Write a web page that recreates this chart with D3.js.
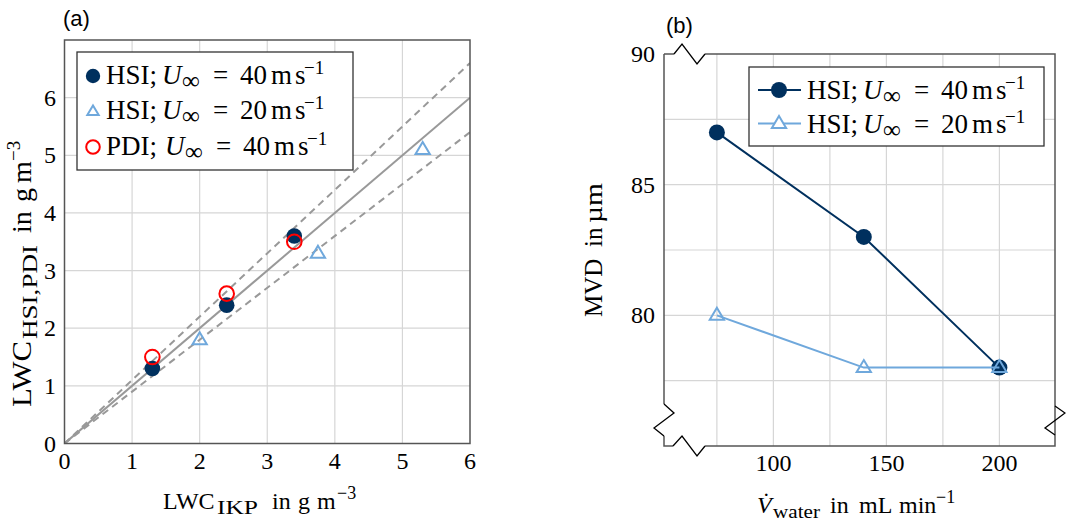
<!DOCTYPE html>
<html><head><meta charset="utf-8">
<script src="https://cdn.jsdelivr.net/npm/d3@7"></script>
<style>body{margin:0;background:#fff} text{fill:#000}</style>
</head><body><svg id="c" width="1066" height="524"></svg>
<script>
// ---- data, panel (a)
const ikp40A = [1.3, 2.4, 3.4];
const hsi40A = [1.3, 2.4, 3.6];
const ikp20A = [2.0, 3.75, 5.3];
const hsi20A = [1.8, 3.3, 5.1];
const pdi40A = [1.5, 2.6, 3.5];
const refSlopes = [1.0, 1.1, 0.9];
const xTicksA = [0, 1, 2, 3, 4, 5, 6];
const yTicksA = [0, 1, 2, 3, 4, 5, 6];
const legendA = ["HSI", "HSI", "PDI"];
const speedsA = [40, 20, 40];
// ---- data, panel (b)
const flowB = [75, 140, 200];
const mvd40B = [87, 83, 78];
const mvd20B = [80, 78, 78];
const xTicksB = [100, 150, 200];
const yTicksB = [80, 85, 90];
const xGridB = [75, 100, 125, 150, 175, 200];
const yGridB = [77.5, 80, 82.5, 85, 87.5];
const speedsB = [40, 20];

const NAVY = "#00305e", LBLUE = "#6fa8dc", RED = "#ff0000", REFG = "#999999", GRID = "#d6d6d6", AX = "#555";
const SERIF = "Liberation Serif, Times New Roman, serif";
const SANS = "Liberation Sans, Arial, sans-serif";
const svg = d3.select("#c");

function rich(g, x0, y0, parts, size) {
  parts.forEach(p => {
    const t = g.append("text").attr("x", x0 + p.o).attr("y", y0 + (p.dy || 0))
      .attr("font-size", p.fs || size).attr("font-family", SERIF).text(p.t);
    if (p.it) t.attr("font-style", "italic");
    if (p.w) t.attr("textLength", p.w).attr("lengthAdjust", "spacingAndGlyphs");
  });
}
function legendParts(name, v, extra) {
  const e = extra || 0;
  return [{t: name + ";", o: 0}, {t: "U", it: true, o: 56 + e}, {t: "∞", o: 76 + e, fs: 25, dy: 5},
    {t: "=", o: 107 + e}, {t: String(v), o: 134 + e}, {t: "m", o: 165 + e}, {t: "s", o: 189 + e},
    {t: "−1", o: 198 + e, fs: 19, dy: -10}];
}
const triPath = (cx, cy, r) => `M${cx},${cy - r}L${cx + r * 0.95},${cy + r * 0.6}L${cx - r * 0.95},${cy + r * 0.6}Z`;

// ================= Panel (a)
{
  const L = 64.5, R = 470, T = 40, B = 443.5;
  const x = d3.scaleLinear([0, 6], [L, R]);
  const y = d3.scaleLinear([0, 7], [B, T]);
  const g = svg.append("g");
  g.append("defs").append("clipPath").attr("id", "clipA").append("rect").attr("x", L).attr("y", T).attr("width", R - L).attr("height", B - T);
  g.selectAll(".gx").data(xTicksA.filter(v => v > 0 && v < 6)).join("line")
    .attr("x1", d => x(d)).attr("x2", d => x(d)).attr("y1", T).attr("y2", B).attr("stroke", GRID).attr("stroke-width", 1.2);
  g.selectAll(".gy").data(yTicksA.filter(v => v > 0)).join("line")
    .attr("y1", d => y(d)).attr("y2", d => y(d)).attr("x1", L).attr("x2", R).attr("stroke", GRID).attr("stroke-width", 1.2);
  const ref = g.append("g").attr("clip-path", "url(#clipA)");
  refSlopes.forEach((s, i) => {
    ref.append("line").attr("x1", x(0)).attr("y1", y(0)).attr("x2", x(6)).attr("y2", y(6 * s))
      .attr("stroke", REFG).attr("stroke-width", 2).attr("stroke-dasharray", i === 0 ? null : "7,5");
  });
  g.append("rect").attr("x", L).attr("y", T).attr("width", R - L).attr("height", B - T).attr("fill", "none").attr("stroke", AX).attr("stroke-width", 1.5);
  g.selectAll(".tx").data(xTicksA).join("text").attr("x", d => x(d)).attr("y", 469).attr("text-anchor", "middle").attr("font-size", 24).attr("font-family", SERIF).text(d => d);
  g.selectAll(".ty").data(yTicksA).join("text").attr("x", 56).attr("y", d => y(d) + 8).attr("text-anchor", "end").attr("font-size", 24).attr("font-family", SERIF).text(d => d);
  g.selectAll(".p20").data(ikp20A).join("path").attr("d", (d, i) => triPath(x(d), y(hsi20A[i]), 7.5))
    .attr("fill", "none").attr("stroke", LBLUE).attr("stroke-width", 2);
  g.selectAll(".p40").data(ikp40A).join("circle").attr("cx", d => x(d)).attr("cy", (d, i) => y(hsi40A[i])).attr("r", 7.8).attr("fill", NAVY);
  g.selectAll(".pd").data(ikp40A).join("circle").attr("cx", d => x(d)).attr("cy", (d, i) => y(pdi40A[i])).attr("r", 7.3)
    .attr("fill", "none").attr("stroke", RED).attr("stroke-width", 2);
  // legend
  g.append("rect").attr("x", 77).attr("y", 52).attr("width", 276).attr("height", 118).attr("fill", "#fff").attr("stroke", "#333").attr("stroke-width", 1.3);
  const rowsY = [84, 118.5, 155];
  legendA.forEach((n, i) => {
    const cy = rowsY[i] - 8;
    if (i === 0) g.append("circle").attr("cx", 93).attr("cy", cy).attr("r", 7.2).attr("fill", NAVY);
    if (i === 1) g.append("path").attr("d", triPath(93, cy + 1, 6)).attr("fill", "none").attr("stroke", LBLUE).attr("stroke-width", 2);
    if (i === 2) g.append("circle").attr("cx", 93).attr("cy", cy).attr("r", 6.8).attr("fill", "none").attr("stroke", RED).attr("stroke-width", 2);
    rich(g, 106, rowsY[i], legendParts(n, speedsA[i], i === 2 ? 3 : 0), 27);
  });
  // axis labels
  rich(g, 163, 509, [{t: "LWC", o: 0}, {t: "IKP", o: 54, fs: 18, dy: 5, w: 41}, {t: "in", o: 109}, {t: "g", o: 135},
    {t: "m", o: 154}, {t: "−3", o: 174, fs: 18, dy: -10}], 24);
  const yl = g.append("g").attr("transform", "translate(31,407) rotate(-90)");
  rich(yl, 0, 0, [{t: "LWC", o: 0, w: 66}, {t: "HSI,PDI", o: 68, fs: 20, dy: 6, w: 94}, {t: "in", o: 174}, {t: "g", o: 205},
    {t: "m", o: 224}, {t: "−3", o: 246, fs: 19, dy: -11}], 28);
  g.append("text").attr("x", 63).attr("y", 26).attr("font-size", 22).attr("font-family", SANS).text("(a)");
}

// ================= Panel (b)
{
  const L = 664, R = 1055, T = 54, B = 446;
  const x = d3.scaleLinear([51.6, 224.6], [L, R]);
  const y = d3.scaleLinear([75, 90], [B, T]);
  const g = svg.append("g");
  g.selectAll(".gx").data(xGridB).join("line")
    .attr("x1", d => x(d)).attr("x2", d => x(d)).attr("y1", T).attr("y2", B).attr("stroke", GRID).attr("stroke-width", 1.2);
  g.selectAll(".gy").data(yGridB).join("line")
    .attr("y1", d => y(d)).attr("y2", d => y(d)).attr("x1", L).attr("x2", R).attr("stroke", GRID).attr("stroke-width", 1.2);
  const ax = g.append("g").attr("fill", "none").attr("stroke-width", 1.5);
  ax.append("path").attr("d", `M${L},${T}V404M${L},436V${B}H673M705,${B}H${R}V${T}H705M674,${T}H${L}`).attr("stroke", AX);
  ax.append("path").attr("d", `M${L},404L674,413L654,428L${L},436`).attr("stroke", "#000").attr("stroke-width", 1.3);
  ax.append("path").attr("d", `M673,${B}L682,436L697,456L705,${B}`).attr("stroke", "#000").attr("stroke-width", 1.3);
  ax.append("path").attr("d", `M674,${T}L682,44L697,64L705,${T}`).attr("stroke", "#000").attr("stroke-width", 1.3);
  ax.append("path").attr("d", `M${R},406L1065,413L1045,428L${R},435`).attr("stroke", "#000").attr("stroke-width", 1.3);
  g.selectAll(".tx").data(xTicksB).join("text").attr("x", d => x(d)).attr("y", 471).attr("text-anchor", "middle").attr("font-size", 24).attr("font-family", SERIF).text(d => d);
  g.selectAll(".ty").data(yTicksB).join("text").attr("x", 655).attr("y", d => y(d) + 8).attr("text-anchor", "end").attr("font-size", 24).attr("font-family", SERIF).text(d => d);
  const line = d3.line().x(d => x(d[0])).y(d => y(d[1]));
  const s40 = flowB.map((f, i) => [f, mvd40B[i]]);
  const s20 = flowB.map((f, i) => [f, mvd20B[i]]);
  g.append("path").attr("d", line(s40)).attr("fill", "none").attr("stroke", NAVY).attr("stroke-width", 2);
  g.selectAll(".c40").data(s40).join("circle").attr("cx", d => x(d[0])).attr("cy", d => y(d[1])).attr("r", 8).attr("fill", NAVY);
  g.append("path").attr("d", line(s20)).attr("fill", "none").attr("stroke", LBLUE).attr("stroke-width", 2);
  g.selectAll(".t20").data(s20).join("path").attr("d", d => triPath(x(d[0]), y(d[1]), 7.5)).attr("fill", "none").attr("stroke", LBLUE).attr("stroke-width", 2);
  // legend
  g.append("rect").attr("x", 749).attr("y", 67).attr("width", 295).attr("height", 79).attr("fill", "#fff").attr("stroke", "#333").attr("stroke-width", 1.3);
  const rowsY = [99, 132.5];
  speedsB.forEach((v, i) => {
    const cy = rowsY[i] - 9;
    g.append("line").attr("x1", 758).attr("x2", 801).attr("y1", cy).attr("y2", cy).attr("stroke", i ? LBLUE : NAVY).attr("stroke-width", 2);
    if (i === 0) g.append("circle").attr("cx", 779).attr("cy", cy).attr("r", 8).attr("fill", NAVY);
    else g.append("path").attr("d", triPath(779, cy, 7.5)).attr("fill", "#fff").attr("stroke", LBLUE).attr("stroke-width", 2);
    rich(g, 807, rowsY[i], legendParts("HSI", v, 0), 27);
  });
  // axis labels
  rich(g, 757, 513, [{t: "V\u0307", o: 0, it: true}, {t: "water", o: 16, fs: 19, dy: 5, w: 47}, {t: "in", o: 73}, {t: "mL", o: 102},
    {t: "min", o: 142}, {t: "−1", o: 179, fs: 18, dy: -10}], 24);
  const yl = g.append("g").attr("transform", "translate(602,317) rotate(-90)");
  rich(yl, 0, 0, [{t: "MVD", o: 0}, {t: "in", o: 70}, {t: "µm", o: 94, w: 40}], 25);
  g.append("text").attr("x", 666).attr("y", 33).attr("font-size", 22).attr("font-family", SANS).text("(b)");
}
</script></body></html>
